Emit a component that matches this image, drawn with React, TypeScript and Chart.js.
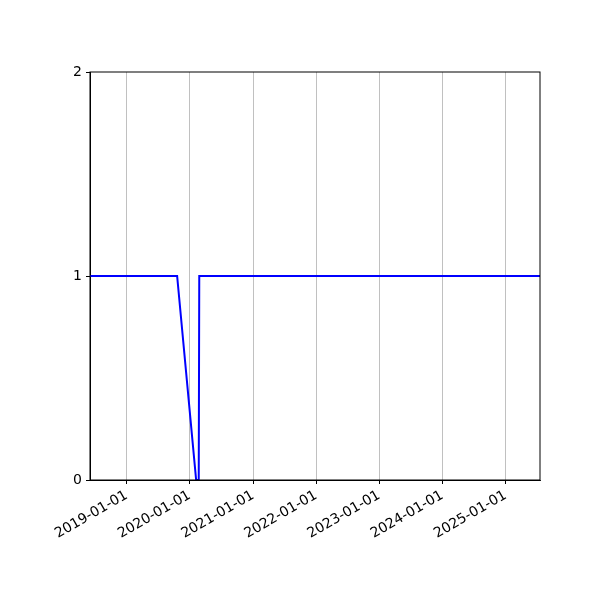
import { useEffect, useRef } from "react";
import { Chart, registerables } from "chart.js";

Chart.register(...registerables);

const dates = ["2018-06-03", "2019-10-20", "2020-02-07", "2020-02-22", "2020-02-25", "2025-07-19"];
const values = [1, 1, 0, 0, 1, 1];
const tickYears = [2019, 2020, 2021, 2022, 2023, 2024, 2025];
const yTicks = [0, 1, 2];

const toMs = (s: string) => {
  const [y, m, d] = s.split("-").map(Number);
  return Date.UTC(y, m - 1, d);
};

const fmt = (ms: number) => {
  const d = new Date(ms);
  const mm = String(d.getUTCMonth() + 1).padStart(2, "0");
  const dd = String(d.getUTCDate()).padStart(2, "0");
  return `${d.getUTCFullYear()}-${mm}-${dd}`;
};

// draws the top and right sides of the frame
const framePlugin = {
  id: "frame",
  afterDraw(chart: Chart) {
    const { ctx, chartArea } = chart;
    ctx.save();
    ctx.strokeStyle = "#000";
    ctx.lineWidth = 1;
    ctx.strokeRect(chartArea.left, chartArea.top, chartArea.right - chartArea.left, chartArea.bottom - chartArea.top);
    ctx.restore();
  },
};

export default function App() {
  const chartRef = useRef<HTMLCanvasElement>(null);
  const chartInstanceRef = useRef<Chart | null>(null);

  useEffect(() => {
    document.body.style.margin = "0";
    if (!chartRef.current) return;
    if (chartInstanceRef.current) chartInstanceRef.current.destroy();
    const ctx = chartRef.current.getContext("2d");
    if (!ctx) return;

    const points = dates.map((d, i) => ({ x: toMs(d), y: values[i] }));
    const font = { family: "DejaVu Sans", size: 14 };

    chartInstanceRef.current = new Chart(ctx, {
      type: "line",
      data: {
        datasets: [
          {
            data: points,
            borderColor: "#0000ff",
            borderWidth: 2,
            pointRadius: 0,
            tension: 0,
          },
        ],
      },
      options: {
        animation: false,
        responsive: false,
        maintainAspectRatio: false,
        layout: { padding: { top: 72, right: 60, left: 0, bottom: 0 } },
        plugins: { legend: { display: false }, tooltip: { enabled: false } },
        scales: {
          x: {
            type: "linear",
            min: toMs(dates[0]),
            max: toMs(dates[dates.length - 1]),
            afterBuildTicks: (scale: any) => {
              scale.ticks = tickYears.map((y) => ({ value: Date.UTC(y, 0, 1) }));
            },
            afterFit: (scale: any) => {
              scale.height = 120;
            },
            grid: {
              color: "#b0b0b0",
              lineWidth: 0.8,
              tickColor: "#000",
              tickLength: 4,
              tickWidth: 1,
            },
            border: { color: "#000", width: 1 },
            ticks: {
              autoSkip: false,
              minRotation: 30,
              maxRotation: 30,
              padding: 3,
              color: "#000",
              font,
              callback: (v: any) => fmt(Number(v)),
            },
          },
          y: {
            min: 0,
            max: 2,
            afterBuildTicks: (scale: any) => {
              scale.ticks = yTicks.map((v) => ({ value: v }));
            },
            afterFit: (scale: any) => {
              scale.width = 90;
            },
            grid: {
              drawOnChartArea: false,
              color: "#000",
              tickLength: 4,
            },
            border: { color: "#000", width: 1 },
            ticks: { padding: 4, color: "#000", font },
          },
        },
      },
      plugins: [framePlugin],
    });

    return () => {
      if (chartInstanceRef.current) {
        chartInstanceRef.current.destroy();
        chartInstanceRef.current = null;
      }
    };
  }, []);

  return (
    <div style={{ width: 600, height: 600, background: "#fff" }}>
      <canvas ref={chartRef} width={600} height={600} style={{ width: 600, height: 600 }}></canvas>
    </div>
  );
}
